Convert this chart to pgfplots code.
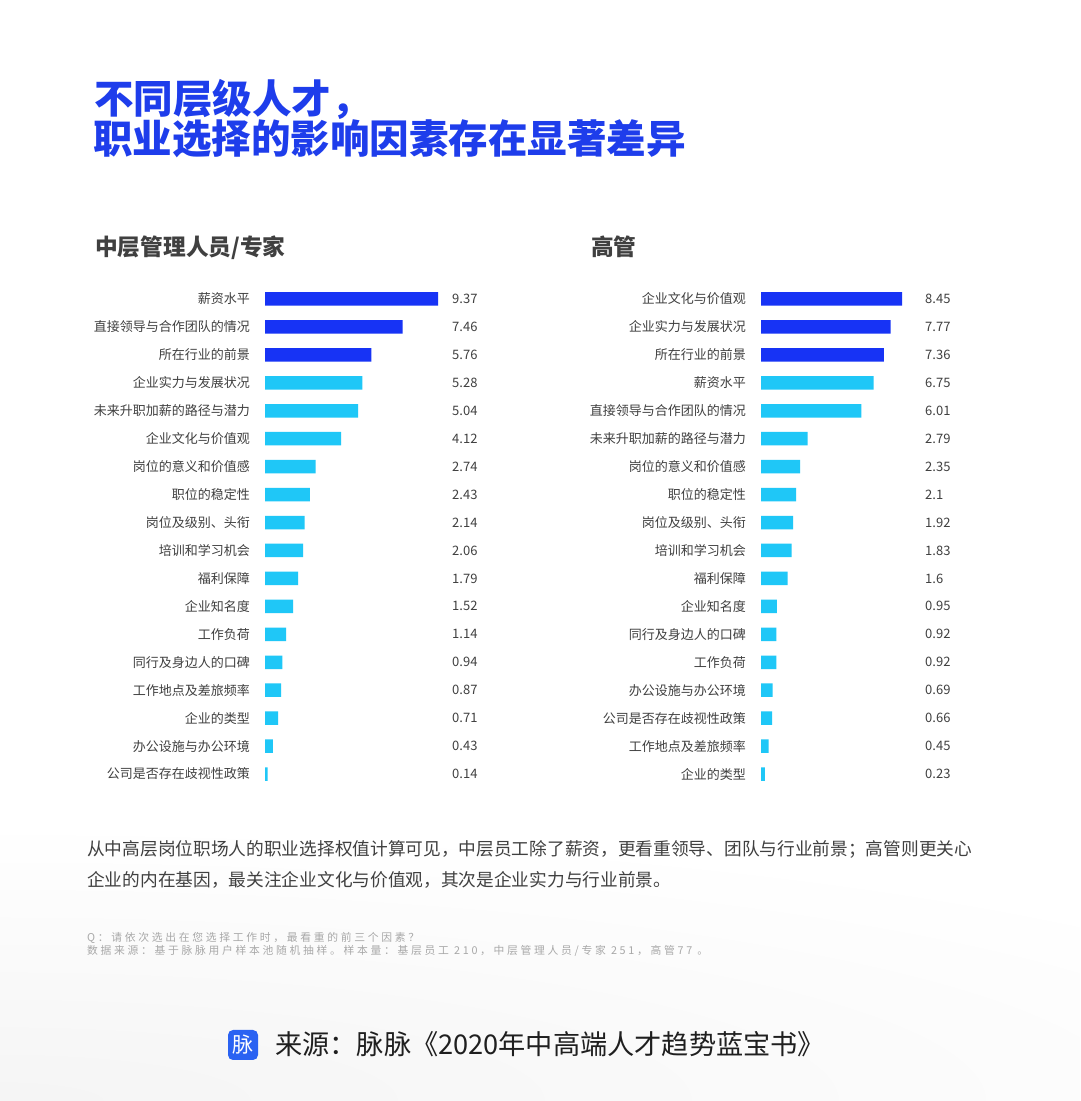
\documentclass[border=0pt]{standalone}
\usepackage{pgfplots}
\pgfplotsset{compat=1.18}
\usepackage{fontspec}
\setmainfont{Noto Sans CJK SC}
\newfontfamily\footfont[LetterSpace=25]{Noto Sans CJK SC}
\definecolor{darkblue}{HTML}{1733F5}
\definecolor{lightblue}{HTML}{1FC7F7}
\definecolor{titleblue}{HTML}{1E3DEB}
\definecolor{iconblue}{HTML}{2A62F2}
\definecolor{txt}{HTML}{404040}
\definecolor{foot}{HTML}{A8A8A8}
\pgfplotsset{
  panel/.style={
    anchor=south west, scale only axis, height=503pt,
    xmin=0, ymin=-0.5, ymax=17.5, y dir=reverse,
    axis line style={draw=none}, xtick=\empty, ytick={0,...,17},
    major tick length=0pt, clip=false,
    yticklabel style={font=\fontsize{13}{15}\selectfont, text=txt, inner sep=0pt, xshift=-15pt},
  },
  darkbar/.style={xbar, bar width=13.5pt, bar shift=0pt, fill=darkblue, draw=none},
  lightbar/.style={xbar, bar width=13.5pt, bar shift=0pt, fill=lightblue, draw=none},
  vals/.style={draw=none, mark=none, nodes near coords, point meta=explicit symbolic,
    nodes near coords style={anchor=west, inner sep=0pt, font=\fontsize{13}{15}\selectfont, text=txt}},
}
\begin{document}
\begin{tikzpicture}
\path[use as bounding box] (0pt,0pt) rectangle (1080pt,1101pt);
\fill[white] (0pt,0pt) rectangle (1080pt,1101pt);
\begin{scope}
\clip (0pt,0pt) rectangle (1080pt,1101pt);
\shade[inner color=black!4, outer color=white] (0pt,0pt) ellipse (1500pt and 280pt);
\end{scope}
% title
\node[anchor=base west, inner sep=0pt, font=\fontsize{39.5}{42}\selectfont\bfseries, text=titleblue] at (94pt,987pt) {不同层级人才，};
\node[anchor=base west, inner sep=0pt, font=\fontsize{39.5}{42}\selectfont\bfseries, text=titleblue] at (93pt,947pt) {职业选择的影响因素存在显著差异};
% panel headers
\node[anchor=base west, inner sep=0pt, font=\fontsize{22.7}{24}\selectfont\bfseries, text=txt] at (95pt,845pt) {中层管理人员/专家};
\node[anchor=base west, inner sep=0pt, font=\fontsize{22.7}{24}\selectfont\bfseries, text=txt] at (591pt,845pt) {高管};
% left panel
\begin{axis}[panel, at={(265pt,313pt)}, width=173pt, xmax=9.37,
  yticklabels={薪资水平,直接领导与合作团队的情况,所在行业的前景,企业实力与发展状况,未来升职加薪的路径与潜力,企业文化与价值观,岗位的意义和价值感,职位的稳定性,岗位及级别、头衔,培训和学习机会,福利保障,企业知名度,工作负荷,同行及身边人的口碑,工作地点及差旅频率,企业的类型,办公设施与办公环境,公司是否存在歧视性政策}]
\addplot[darkbar] coordinates {(9.37,0) (7.46,1) (5.76,2)};
\addplot[lightbar] coordinates {(5.28,3) (5.04,4) (4.12,5) (2.74,6) (2.43,7) (2.14,8) (2.06,9) (1.79,10) (1.52,11) (1.14,12) (0.94,13) (0.87,14) (0.71,15) (0.43,16) (0.14,17)};
\addplot[vals] coordinates {(10.13,0)[9.37] (10.13,1)[7.46] (10.13,2)[5.76] (10.13,3)[5.28] (10.13,4)[5.04] (10.13,5)[4.12] (10.13,6)[2.74] (10.13,7)[2.43] (10.13,8)[2.14] (10.13,9)[2.06] (10.13,10)[1.79] (10.13,11)[1.52] (10.13,12)[1.14] (10.13,13)[0.94] (10.13,14)[0.87] (10.13,15)[0.71] (10.13,16)[0.43] (10.13,17)[0.14]};
\end{axis}
% right panel
\begin{axis}[panel, at={(761pt,313pt)}, width=141pt, xmax=8.45,
  yticklabels={企业文化与价值观,企业实力与发展状况,所在行业的前景,薪资水平,直接领导与合作团队的情况,未来升职加薪的路径与潜力,岗位的意义和价值感,职位的稳定性,岗位及级别、头衔,培训和学习机会,福利保障,企业知名度,同行及身边人的口碑,工作负荷,办公设施与办公环境,公司是否存在歧视性政策,工作地点及差旅频率,企业的类型}]
\addplot[darkbar] coordinates {(8.45,0) (7.77,1) (7.36,2)};
\addplot[lightbar] coordinates {(6.75,3) (6.01,4) (2.79,5) (2.35,6) (2.1,7) (1.92,8) (1.83,9) (1.6,10) (0.95,11) (0.92,12) (0.92,13) (0.69,14) (0.66,15) (0.45,16) (0.23,17)};
\addplot[vals] coordinates {(9.83,0)[8.45] (9.83,1)[7.77] (9.83,2)[7.36] (9.83,3)[6.75] (9.83,4)[6.01] (9.83,5)[2.79] (9.83,6)[2.35] (9.83,7)[2.1] (9.83,8)[1.92] (9.83,9)[1.83] (9.83,10)[1.6] (9.83,11)[0.95] (9.83,12)[0.92] (9.83,13)[0.92] (9.83,14)[0.69] (9.83,15)[0.66] (9.83,16)[0.45] (9.83,17)[0.23]};
\end{axis}
% paragraph
\node[anchor=base west, inner sep=0pt, font=\fontsize{17.7}{20}\selectfont, text=txt] at (87pt,245pt) {从中高层岗位职场人的职业选择权值计算可见，中层员工除了薪资，更看重领导、团队与行业前景；高管则更关心};
\node[anchor=base west, inner sep=0pt, font=\fontsize{17.7}{20}\selectfont, text=txt] at (87pt,214pt) {企业的内在基因，最关注企业文化与价值观，其次是企业实力与行业前景。};
% footnotes
\node[anchor=base west, inner sep=0pt, font=\footfont\fontsize{10.8}{12}\selectfont, text=foot] at (87pt,159pt) {Q：请依次选出在您选择工作时，最看重的前三个因素？};
\node[anchor=base west, inner sep=0pt, font=\footfont\fontsize{10.8}{12}\selectfont, text=foot] at (87pt,146pt) {数据来源：基于脉脉用户样本池随机抽样。样本量：基层员工 210，中层管理人员/专家 251，高管77 。};
% source
\fill[iconblue, rounded corners=5pt] (228pt,41pt) rectangle (258pt,71pt);
\node[inner sep=0pt, text=white, font=\fontsize{21}{21}\selectfont] at (243pt,56pt) {脉};
\node[anchor=base west, inner sep=0pt, font=\fontsize{27.2}{29}\selectfont, text=black!88] at (275pt,46pt) {来源：脉脉《2020年中高端人才趋势蓝宝书》};
\end{tikzpicture}
\end{document}
